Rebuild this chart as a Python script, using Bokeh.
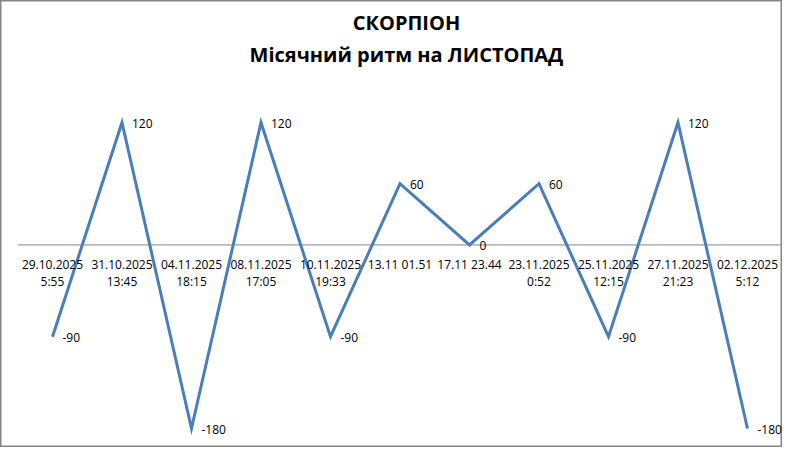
from bokeh.plotting import figure
from bokeh.models import Range1d, Label, ColumnDataSource
from bokeh.core.properties import value
from bokeh.embed import file_html
from bokeh.resources import INLINE

categories = ["29.10.2025\n5:55", "31.10.2025\n13:45", "04.11.2025\n18:15", "08.11.2025\n17:05",
              "10.11.2025\n19:33", "13.11 01.51", "17.11 23.44", "23.11.2025\n0:52",
              "25.11.2025\n12:15", "27.11.2025\n21:23", "02.12.2025\n5:12"]
values = [-90, 120, -180, 120, -90, 60, 0, 60, -90, 120, -180]
title_lines = ["СКОРПІОН", "Місячний ритм на ЛИСТОПАД"]

FONT = "Open Sans"
W, H = 782, 447

xs = list(range(len(categories)))

p = figure(width=W, height=H, output_backend="svg", toolbar_location=None,
           x_range=Range1d(-0.748, 10.504), y_range=Range1d(-198.6, 239.6),
           x_axis_location=None, y_axis_location=None,
           min_border=0, min_border_left=0, min_border_right=0, min_border_top=0, min_border_bottom=0)
p.xgrid.visible = False
p.ygrid.visible = False
p.outline_line_color = "#868686"
p.outline_line_width = 2
p.background_fill_color = "white"
p.border_fill_color = "white"

# category axis line at zero (spans the category band)
p.segment(x0=[xs[0] - 0.5], y0=[0], x1=[xs[-1] + 0.5], y1=[0], line_color="#868686", line_width=1)

# series line
src = ColumnDataSource(dict(x=xs, y=values, lab=[str(v) for v in values]))
p.line(x="x", y="y", source=src, line_color="#4A7EBB", line_width=3, line_join="miter")

# data labels
p.text(x="x", y="y", text="lab", source=src, x_offset=10, y_offset=1,
       text_font=value(FONT), text_font_size="12px", text_color="#000000",
       text_align="left", text_baseline="middle")

# category tick labels below the axis line
p.text(x=xs, y=[0] * len(categories), text=categories, y_offset=11,
       text_font=value(FONT), text_font_size="12px", text_color="#000000",
       text_align="center", text_baseline="top", text_line_height=1.0)

# title
p.add_layout(Label(x=406, y=H - 22, x_units="screen", y_units="screen", text=title_lines[0],
                   text_font=FONT, text_font_size="20px", text_font_style="bold",
                   text_align="center", text_baseline="middle", text_color="#000000"))
p.add_layout(Label(x=406, y=H - 54, x_units="screen", y_units="screen", text=title_lines[1],
                   text_font=FONT, text_font_size="20px", text_font_style="bold",
                   text_align="center", text_baseline="middle", text_color="#000000"))

open("out.html", "w").write(file_html(p, INLINE))
